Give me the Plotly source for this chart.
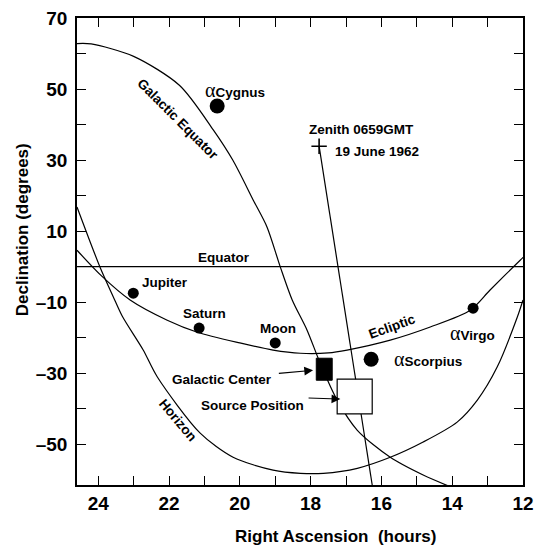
import plotly.graph_objects as go

# ---------------- data ----------------
gal_ra  = [24.6, 24.2, 23.0, 21.7, 20.75, 20.2, 19.62, 19.23, 18.86, 18.52, 18.1, 17.73, 17.25, 16.68, 15.75, 14.82, 14.1]
gal_dec = [62.8, 62.7, 59.2, 51.0, 38.5, 30.0, 18.7, 11.1, 0.0, -9.4, -17.9, -27.2, -37.6, -46.1, -53.7, -58.7, -61.8]

ecl_ra  = [24.6, 23.9, 23.1, 22.05, 21.2, 20.0, 19.06, 18.29, 17.5, 16.97, 15.75, 14.62, 13.49, 12.93, 12.08, 11.9]
ecl_dec = [4.6, -2.7, -9.4, -15.1, -18.5, -21.5, -23.5, -24.4, -24.3, -23.5, -20.7, -17.0, -12.3, -6.6, 1.8, 3.5]

hor_ra  = [24.6, 23.94, 23.58, 23.32, 22.73, 22.33, 21.12, 20.19, 19.06, 18.29, 17.64, 16.68, 15.75, 14.82, 13.86, 13.29, 12.73, 12.16, 12.0]
hor_dec = [16.8, -0.4, -8.4, -14.0, -23.5, -31.1, -46.9, -53.7, -57.3, -58.2, -58.2, -56.8, -53.7, -49.4, -43.8, -37.6, -28.3, -14.2, -9.4]

eq_ra  = [24.6, 12.0]
eq_dec = [0.0, 0.0]

zen_line_ra  = [17.76, 16.26]
zen_line_dec = [33.9, -61.5]
zenith_ra, zenith_dec = 17.76, 33.9

obj_names = ["Cygnus", "Jupiter", "Saturn", "Moon", "Scorpius", "Virgo"]
obj_ra    = [20.64, 23.01, 21.15, 19.0, 16.29, 13.41]
obj_dec   = [45.2, -7.5, -17.3, -21.5, -26.1, -11.7]
obj_size  = [15, 11, 11, 11, 15, 11]

gc_box  = [17.84, 17.39, -32.0, -25.8]    # ra0, ra1, dec0, dec1
src_box = [17.25, 16.26, -41.5, -31.7]

x_ticks = list(range(12, 25))
x_labels = [str(v) if v % 2 == 0 else "" for v in x_ticks]
y_ticks = list(range(-50, 71, 10))
y_labels = [(str(v).replace("-", "\u2013") if v % 20 != 0 else "") for v in y_ticks]

# ---------------- figure ----------------
FONT = "Liberation Sans Narrow, Liberation Sans, Arial, sans-serif"
LINE = dict(color="black", width=1.2)

fig = go.Figure()
for ra, dec in [(gal_ra, gal_dec), (ecl_ra, ecl_dec), (hor_ra, hor_dec)]:
    fig.add_trace(go.Scatter(x=ra, y=dec, mode="lines", line=dict(shape="spline", smoothing=0.8, **LINE),
                             hoverinfo="skip"))
fig.add_trace(go.Scatter(x=eq_ra, y=eq_dec, mode="lines", line=LINE, hoverinfo="skip"))
fig.add_trace(go.Scatter(x=zen_line_ra, y=zen_line_dec, mode="lines", line=LINE, hoverinfo="skip"))
fig.add_trace(go.Scatter(x=[zenith_ra], y=[zenith_dec], mode="markers",
                         marker=dict(symbol="cross-thin", size=11, line=dict(color="black", width=1.6))))
fig.add_trace(go.Scatter(x=obj_ra, y=obj_dec, mode="markers", text=obj_names,
                         marker=dict(color="black", size=obj_size, opacity=1, line=dict(width=0))))

fig.add_shape(type="rect", xref="x", yref="y", x0=gc_box[0], x1=gc_box[1], y0=gc_box[2], y1=gc_box[3],
              fillcolor="black", line=dict(color="black", width=1))
fig.add_shape(type="rect", xref="x", yref="y", x0=src_box[0], x1=src_box[1], y0=src_box[2], y1=src_box[3],
              fillcolor="white", line=dict(color="black", width=1.2))

ALPHA = '<span style="font-family:Liberation Serif;font-weight:normal;font-size:20px">\u03b1</span>'
labels = [
    (ALPHA + "Cygnus", 20.13, 49.7, 0),
    ("Galactic Equator", 21.74, 41.5, 45),
    ("Zenith 0659GMT", 16.57, 38.5, 0),
    ("19 June 1962", 16.12, 32.5, 0),
    ("Equator", 20.44, 2.7, 0),
    ("Jupiter", 22.11, -4.6, 0),
    ("Saturn", 21.0, -13.1, 0),
    ("Moon", 18.92, -17.3, 0),
    ("Ecliptic", 15.69, -17.0, -20),
    (ALPHA + "Virgo", 13.43, -18.7, 0),
    (ALPHA + "Scorpius", 14.68, -26.1, 0),
    ("Galactic Center", 20.5, -31.7, 0),
    ("Source Position", 19.65, -39.0, 0),
    ("Horizon", 21.74, -43.2, 50),
]
for txt, x, y, ang in labels:
    fig.add_annotation(x=x, y=y, text=txt, showarrow=False, textangle=ang,
                       xanchor="center", yanchor="middle",
                       font=dict(family=FONT, size=13.5, color="black", weight="bold"))

# arrows
for (tx, ty), (hx, hy) in [((18.94, -30.1), (17.93, -29.2)), ((18.1, -37.0), (17.16, -37.3))]:
    fig.add_annotation(x=hx, y=hy, ax=tx, ay=ty, xref="x", yref="y", axref="x", ayref="y",
                       text="", showarrow=True, arrowhead=2, arrowsize=1.6, arrowwidth=1.1,
                       arrowcolor="black")

# axis titles
fig.add_annotation(xref="paper", yref="paper", x=0.581, y=-0.111, xanchor="center", yanchor="middle",
                   text="Right Ascension\u00a0 (hours)", showarrow=False,
                   font=dict(family=FONT, size=17, color="black", weight="bold"))
fig.add_annotation(xref="paper", yref="paper", x=-0.123, y=0.546, xanchor="center", yanchor="middle",
                   text="Declination (degrees)", textangle=-90, showarrow=False,
                   font=dict(family=FONT, size=17, color="black", weight="bold"))

axis_common = dict(showgrid=False, zeroline=False, showline=True, linecolor="black", linewidth=1.5,
                   mirror="ticks", ticks="inside", ticklen=9, tickcolor="black", tickwidth=1.3,
                   automargin=False,
                   tickfont=dict(family=FONT, size=19, color="black", weight="bold"))
fig.update_xaxes(range=[24.6, 12], tickmode="array", tickvals=x_ticks, ticktext=x_labels, **axis_common)
fig.update_yaxes(range=[-61.5, 70], tickmode="array", tickvals=y_ticks, ticktext=y_labels,
                 ticklabelstandoff=4, **axis_common)

fig.update_layout(template="none", width=541, height=546, margin=dict(l=77, r=18, t=18, b=61, pad=0),
                  paper_bgcolor="white", plot_bgcolor="white", showlegend=False)

fig.write_html("out.html", config={"displayModeBar": False},
               post_script="document.body.style.margin='0px';")
